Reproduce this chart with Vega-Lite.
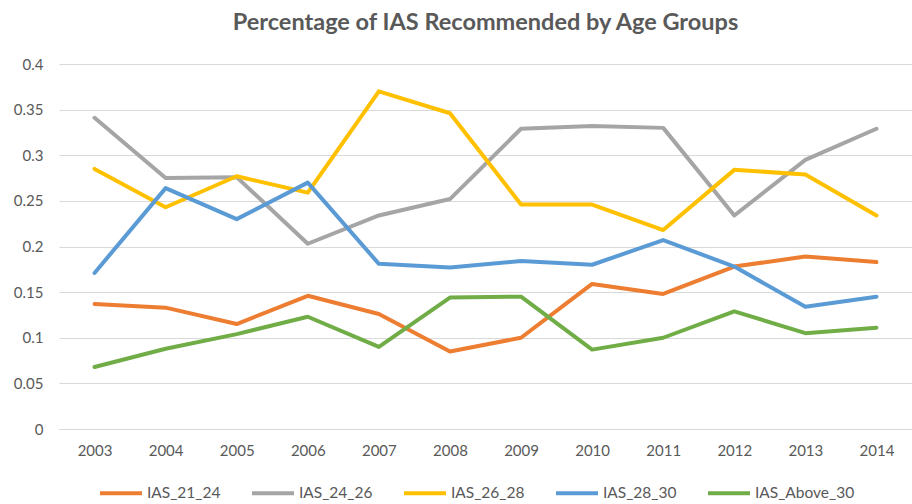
{
  "$schema": "https://vega.github.io/schema/vega-lite/v6.json",
  "width": 853,
  "height": 365,
  "autosize": {"type": "none"},
  "padding": {"left": 59, "top": 64, "right": 0, "bottom": 75},
  "background": "white",
  "title": {
    "text": "Percentage of IAS Recommended by Age Groups",
    "font": "Lato",
    "fontSize": 23.5,
    "fontWeight": "bold",
    "color": "#595959",
    "anchor": "middle",
    "offset": 23
  },
  "config": {
    "view": {"stroke": null},
    "font": "Lato"
  },
  "data": {
    "values": [
      {"year": "2003", "series": "IAS_21_24", "value": 0.137},
      {"year": "2004", "series": "IAS_21_24", "value": 0.133},
      {"year": "2005", "series": "IAS_21_24", "value": 0.115},
      {"year": "2006", "series": "IAS_21_24", "value": 0.146},
      {"year": "2007", "series": "IAS_21_24", "value": 0.126},
      {"year": "2008", "series": "IAS_21_24", "value": 0.085},
      {"year": "2009", "series": "IAS_21_24", "value": 0.100},
      {"year": "2010", "series": "IAS_21_24", "value": 0.159},
      {"year": "2011", "series": "IAS_21_24", "value": 0.148},
      {"year": "2012", "series": "IAS_21_24", "value": 0.178},
      {"year": "2013", "series": "IAS_21_24", "value": 0.189},
      {"year": "2014", "series": "IAS_21_24", "value": 0.183},
      {"year": "2003", "series": "IAS_24_26", "value": 0.341},
      {"year": "2004", "series": "IAS_24_26", "value": 0.275},
      {"year": "2005", "series": "IAS_24_26", "value": 0.276},
      {"year": "2006", "series": "IAS_24_26", "value": 0.203},
      {"year": "2007", "series": "IAS_24_26", "value": 0.234},
      {"year": "2008", "series": "IAS_24_26", "value": 0.252},
      {"year": "2009", "series": "IAS_24_26", "value": 0.329},
      {"year": "2010", "series": "IAS_24_26", "value": 0.332},
      {"year": "2011", "series": "IAS_24_26", "value": 0.330},
      {"year": "2012", "series": "IAS_24_26", "value": 0.234},
      {"year": "2013", "series": "IAS_24_26", "value": 0.295},
      {"year": "2014", "series": "IAS_24_26", "value": 0.329},
      {"year": "2003", "series": "IAS_26_28", "value": 0.285},
      {"year": "2004", "series": "IAS_26_28", "value": 0.243},
      {"year": "2005", "series": "IAS_26_28", "value": 0.277},
      {"year": "2006", "series": "IAS_26_28", "value": 0.259},
      {"year": "2007", "series": "IAS_26_28", "value": 0.370},
      {"year": "2008", "series": "IAS_26_28", "value": 0.346},
      {"year": "2009", "series": "IAS_26_28", "value": 0.246},
      {"year": "2010", "series": "IAS_26_28", "value": 0.246},
      {"year": "2011", "series": "IAS_26_28", "value": 0.218},
      {"year": "2012", "series": "IAS_26_28", "value": 0.284},
      {"year": "2013", "series": "IAS_26_28", "value": 0.279},
      {"year": "2014", "series": "IAS_26_28", "value": 0.234},
      {"year": "2003", "series": "IAS_28_30", "value": 0.171},
      {"year": "2004", "series": "IAS_28_30", "value": 0.264},
      {"year": "2005", "series": "IAS_28_30", "value": 0.230},
      {"year": "2006", "series": "IAS_28_30", "value": 0.270},
      {"year": "2007", "series": "IAS_28_30", "value": 0.181},
      {"year": "2008", "series": "IAS_28_30", "value": 0.177},
      {"year": "2009", "series": "IAS_28_30", "value": 0.184},
      {"year": "2010", "series": "IAS_28_30", "value": 0.180},
      {"year": "2011", "series": "IAS_28_30", "value": 0.207},
      {"year": "2012", "series": "IAS_28_30", "value": 0.178},
      {"year": "2013", "series": "IAS_28_30", "value": 0.134},
      {"year": "2014", "series": "IAS_28_30", "value": 0.145},
      {"year": "2003", "series": "IAS_Above_30", "value": 0.068},
      {"year": "2004", "series": "IAS_Above_30", "value": 0.088},
      {"year": "2005", "series": "IAS_Above_30", "value": 0.104},
      {"year": "2006", "series": "IAS_Above_30", "value": 0.123},
      {"year": "2007", "series": "IAS_Above_30", "value": 0.090},
      {"year": "2008", "series": "IAS_Above_30", "value": 0.144},
      {"year": "2009", "series": "IAS_Above_30", "value": 0.145},
      {"year": "2010", "series": "IAS_Above_30", "value": 0.087},
      {"year": "2011", "series": "IAS_Above_30", "value": 0.100},
      {"year": "2012", "series": "IAS_Above_30", "value": 0.129},
      {"year": "2013", "series": "IAS_Above_30", "value": 0.105},
      {"year": "2014", "series": "IAS_Above_30", "value": 0.111}
    ]
  },
  "mark": {"type": "line", "strokeWidth": 4, "strokeCap": "round", "strokeJoin": "round"},
  "encoding": {
    "x": {
      "field": "year",
      "type": "ordinal",
      "scale": {"type": "point", "padding": 0.5},
      "axis": {
        "title": null,
        "labelAngle": 0,
        "labelFont": "Lato",
        "labelFontSize": 15,
        "labelColor": "#595959",
        "labelPadding": 14,
        "ticks": false,
        "domain": true,
        "domainColor": "#d9d9d9",
        "domainWidth": 1,
        "grid": false
      }
    },
    "y": {
      "field": "value",
      "type": "quantitative",
      "scale": {"domain": [0, 0.4], "nice": false},
      "axis": {
        "title": null,
        "values": [0, 0.05, 0.1, 0.15, 0.2, 0.25, 0.3, 0.35, 0.4],
        "format": "~g",
        "labelFont": "Lato",
        "labelFontSize": 15,
        "labelColor": "#595959",
        "labelPadding": 16,
        "ticks": false,
        "domain": false,
        "grid": true,
        "gridColor": "#d9d9d9",
        "gridWidth": 1
      }
    },
    "color": {
      "field": "series",
      "type": "nominal",
      "scale": {
        "domain": ["IAS_21_24", "IAS_24_26", "IAS_26_28", "IAS_28_30", "IAS_Above_30"],
        "range": ["#ED7D31", "#A5A5A5", "#FFC000", "#5B9BD5", "#70AD47"]
      },
      "legend": {
        "title": null,
        "orient": "none",
        "direction": "horizontal",
        "legendX": 39,
        "legendY": 406,
        "padding": 0,
        "symbolType": "stroke",
        "symbolSize": 1764,
        "symbolStrokeWidth": 4,
        "labelOffset": 3,
        "labelFont": "Lato",
        "labelFontSize": 15.5,
        "labelColor": "#595959",
        "columnPadding": 23
      }
    }
  }
}
